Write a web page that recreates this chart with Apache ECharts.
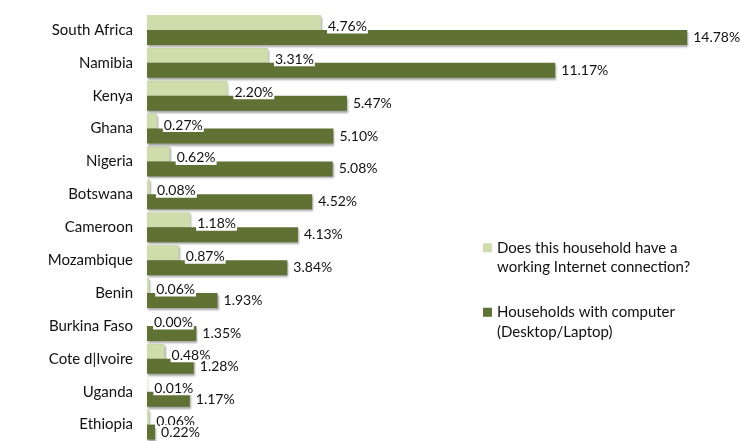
<!DOCTYPE html>
<html>
<head>
<meta charset="utf-8">
<script src="https://cdn.jsdelivr.net/npm/echarts@6/dist/echarts.min.js"></script>
<style>
  html, body { margin: 0; padding: 0; background: #fff; }
  #chart { width: 741px; height: 441px; }
</style>
</head>
<body>
<div id="chart"></div>
<script>
// Household ICT access by country (%)
const categories = ['South Africa', 'Namibia', 'Kenya', 'Ghana', 'Nigeria', 'Botswana', 'Cameroon',
  'Mozambique', 'Benin', 'Burkina Faso', 'Cote d|Ivoire', 'Uganda', 'Ethiopia'];
const internetValues = [4.76, 3.31, 2.20, 0.27, 0.62, 0.08, 1.18, 0.87, 0.06, 0.00, 0.48, 0.01, 0.06];
const computerValues = [14.78, 11.17, 5.47, 5.10, 5.08, 4.52, 4.13, 3.84, 1.93, 1.35, 1.28, 1.17, 0.22];
const seriesNames = ['Internet', 'Computer'];
const legendLabels = {
  Internet: 'Does this household have a\nworking Internet connection?',
  Computer: 'Households with computer\n(Desktop/Laptop)'
};

const FONT = 'Lato';
const LIGHT = '#cfdcab';
const DARK = '#5f7133';
const TEXT = '#111';

const barShadow = {
  shadowColor: 'rgba(0,0,0,0.35)',
  shadowBlur: 2,
  shadowOffsetX: 1,
  shadowOffsetY: 2
};

const pct = p => p.value.toFixed(2) + '%';

const chart = echarts.init(document.getElementById('chart'), null, { renderer: 'canvas' });
chart.setOption({
  animation: false,
  textStyle: { fontFamily: FONT },
  grid: { left: 147, top: 13.5, height: 429, width: 584.8, containLabel: false },
  xAxis: {
    type: 'value', min: 0, max: 16, show: false
  },
  yAxis: {
    type: 'category',
    data: categories,
    inverse: true,
    axisLine: { show: false },
    axisTick: { show: false },
    axisLabel: { fontSize: 15, color: TEXT, margin: 14, fontFamily: FONT }
  },
  legend: {
    orient: 'vertical',
    left: 483,
    top: 218.5,
    padding: 0,
    itemWidth: 9,
    itemHeight: 9,
    itemGap: 6,
    icon: 'rect',
    data: seriesNames,
    // a leading blank line keeps the swatch level with the first text line
    formatter: n => '\n' + legendLabels[n],
    textStyle: { fontSize: 15, color: TEXT, lineHeight: 19.5, fontFamily: FONT }
  },
  series: [
    {
      name: seriesNames[0],
      type: 'bar',
      data: internetValues,
      barWidth: 15,
      barGap: '0%',
      itemStyle: Object.assign({ color: LIGHT }, barShadow),
      label: {
        show: true, position: 'right', distance: 6, offset: [0, 4],
        formatter: pct, fontSize: 14, color: TEXT, fontFamily: FONT,
        backgroundColor: '#fff', padding: [0, 1]
      }
    },
    {
      name: seriesNames[1],
      type: 'bar',
      data: computerValues,
      barWidth: 15,
      barGap: '0%',
      itemStyle: Object.assign({ color: DARK }, barShadow),
      label: {
        show: true, position: 'right', distance: 5,
        formatter: pct, fontSize: 14, color: TEXT, fontFamily: FONT,
        backgroundColor: '#fff', padding: [0, 1]
      }
    }
  ]
});
</script>
</body>
</html>
